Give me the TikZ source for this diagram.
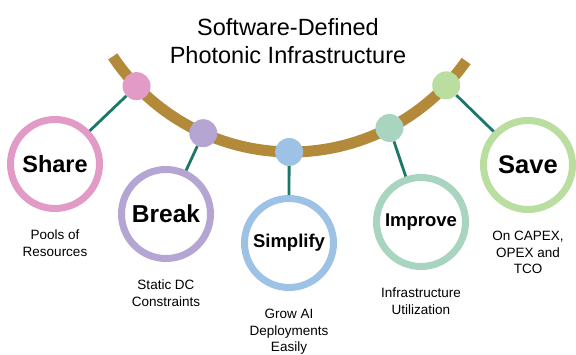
\documentclass[tikz,border=0pt]{standalone}
\usepackage{fontspec}
\setmainfont{Liberation Sans}
\usetikzlibrary{positioning}
\definecolor{sharepink}{HTML}{E29AC6}
\definecolor{breakpurple}{HTML}{B4A5D2}
\definecolor{simplifyblue}{HTML}{9DC2E6}
\definecolor{improveteal}{HTML}{A8D4C0}
\definecolor{savegreen}{HTML}{B9DEA0}
\definecolor{spinebrown}{HTML}{B28A3A}
\definecolor{linkteal}{HTML}{1B7869}

\begin{document}
\begin{tikzpicture}[x=1pt,y=-1pt,
  spine/.style={draw=spinebrown,line width=11pt},
  dot/.style={circle,fill=#1,minimum size=28pt,inner sep=0pt},
  ring/.style 2 args={circle,draw=#1,line width=7pt,fill=white,minimum size=89pt,
    inner sep=0pt,font=\bfseries\fontsize{#2}{#2}\selectfont},
  link/.style={draw=linkteal,line width=2.8pt},
  caption/.style={font=\fontsize{13.5}{16.5}\selectfont,align=center,inner sep=0pt},
  title/.style={font=\fontsize{23.5}{27.5}\selectfont,align=center,inner sep=0pt},
]
\useasboundingbox (0,0) rectangle (576,354);
\node[title,anchor=north] (title) at (288,18.5) {Software-Defined\\Photonic Infrastructure};
\draw[spine] ([shift={(291,-62)}]146.4:214) arc[start angle=146.4,end angle=35.1,radius=214];
\node[dot=sharepink] (dshare) at ([shift={(291,-62)}]136.2:214) {};
\node[dot=breakpurple] (dbreak) at ([shift={(291,-62)}]114.2:214) {};
\node[dot=simplifyblue] (dsimplify) at ([shift={(291,-62)}]90.5:214) {};
\node[dot=improveteal] (dimprove) at ([shift={(291,-62)}]62.6:214) {};
\node[dot=savegreen] (dsave) at ([shift={(291,-62)}]43.5:214) {};
\node[ring={sharepink}{23.5}] (share) at (55,164) {Share};
\node[ring={breakpurple}{24.5}] (brk) at (166,214) {Break};
\node[ring={simplifyblue}{18.5}] (simplify) at (289,243) {Simplify};
\node[ring={improveteal}{18.5}] (improve) at (421,222) {Improve};
\node[ring={savegreen}{25.5}] (save) at (528,165) {Save};
\draw[link] (dshare) -- (share);
\draw[link] (dbreak) -- (brk);
\draw[link] (dsimplify) -- (simplify);
\draw[link] (dimprove) -- (improve);
\draw[link] (dsave) -- (save);
\node[caption,below=18pt of share] (pools) {Pools of\\Resources};
\node[caption,below=18pt of brk] (static) {Static DC\\Constraints};
\node[caption,below=18pt of simplify] (grow) {Grow AI\\Deployments\\Easily};
\node[caption,below=18pt of improve] (infra) {Infrastructure\\Utilization};
\node[caption,below=18pt of save] (capex) {On CAPEX,\\OPEX and\\TCO};
\end{tikzpicture}
\end{document}
